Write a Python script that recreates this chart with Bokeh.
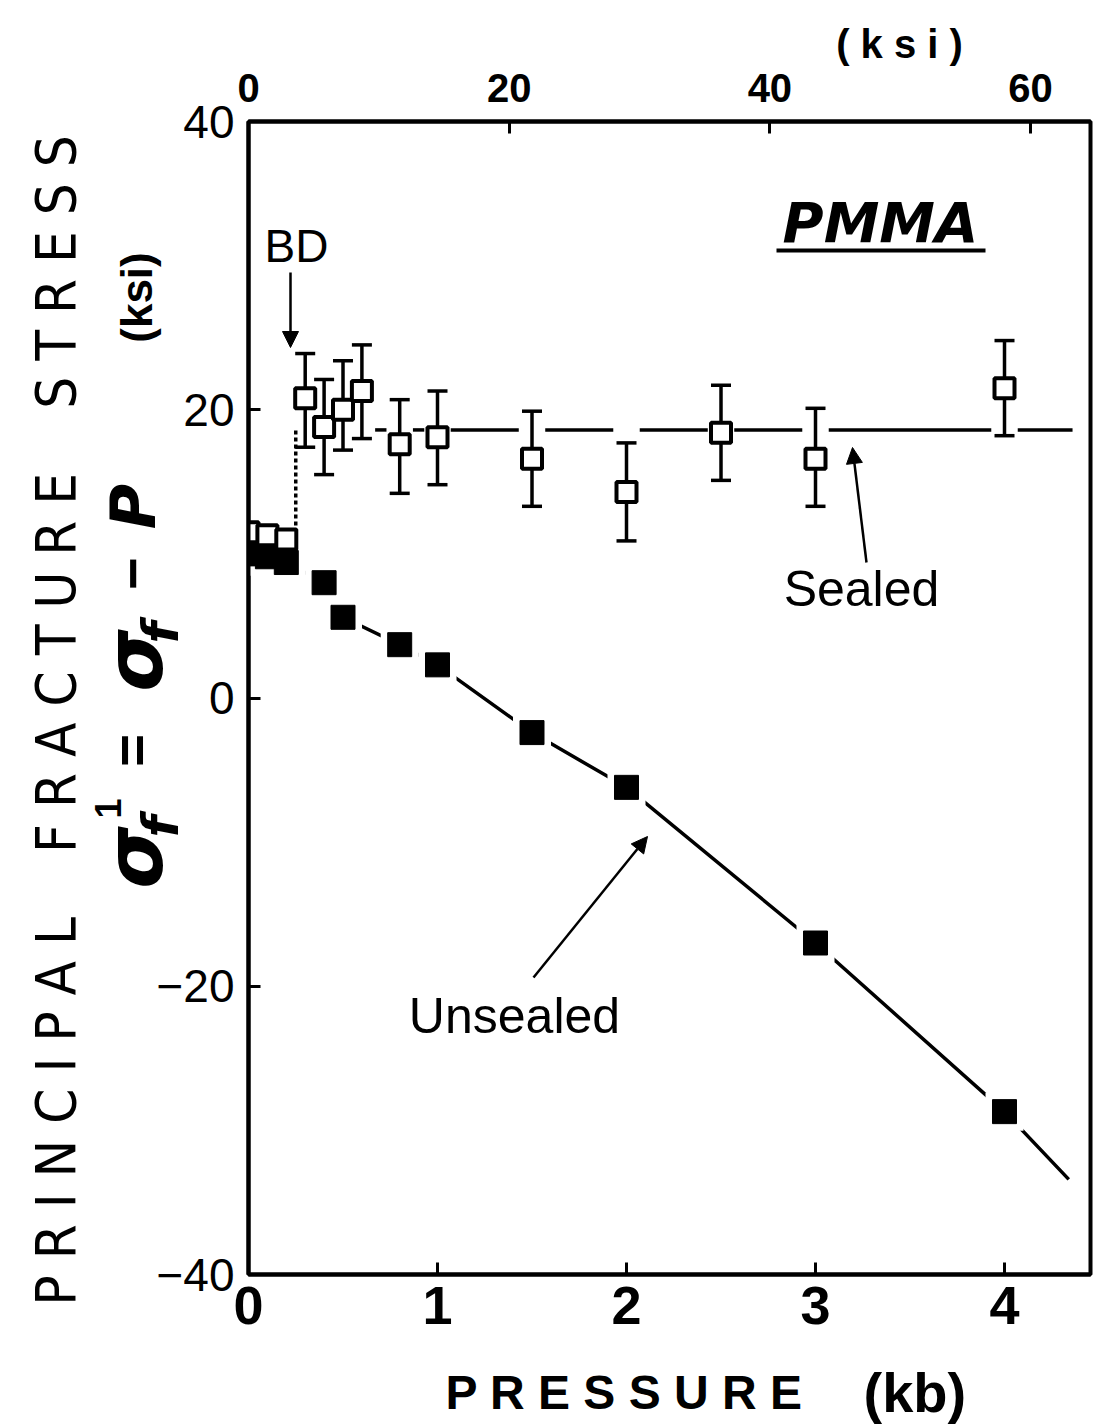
import math
from bokeh.plotting import figure
from bokeh.models import (Range1d, LinearAxis, FixedTicker, Label, Arrow, GridBox,
                          NormalHead, Whisker, TeeHead, ColumnDataSource)
from bokeh.core.properties import value
from bokeh.embed import file_html
from bokeh.resources import INLINE

# ---- data: pressure (kb) vs sigma_f' (ksi) ----
sealed_low_p = [0.0, 0.1, 0.2]
sealed_low_s = [11.5, 11.3, 11.0]

sealed_p = [0.3, 0.4, 0.5, 0.6, 0.8, 1.0, 1.5, 2.0, 2.5, 3.0, 4.0]
sealed_s = [20.8, 18.8, 20.0, 21.3, 17.6, 18.1, 16.6, 14.3, 18.4, 16.6, 21.5]
sealed_lo = [17.4, 15.5, 17.2, 18.0, 14.2, 14.8, 13.3, 10.9, 15.1, 13.3, 18.2]
sealed_hi = [23.9, 22.1, 23.4, 24.5, 20.7, 21.3, 19.9, 17.7, 21.7, 20.1, 24.8]

sealed_level = 18.6      # mean sealed strength above BD
bd_pressure = 0.25       # brittle-ductile transition
sealed_line_end = 4.36

unsealed_p = [0.0, 0.1, 0.2, 0.4, 0.5, 0.8, 1.0, 1.5, 2.0, 3.0, 4.0]
unsealed_s = [10.0, 9.8, 9.4, 8.0, 5.6, 3.7, 2.3, -2.4, -6.2, -17.0, -28.7]

unsealed_curve_p = [0.2, 0.4, 0.5, 0.8, 1.0, 1.5, 2.0, 3.0, 4.0, 4.34]
unsealed_curve_s = [9.4, 8.0, 5.6, 3.7, 2.3, -2.4, -6.2, -17.0, -28.7, -33.4]

kb_ticks = [0, 1, 2, 3, 4]
ksi_ticks = [0, 20, 40, 60]
stress_ticks = [-40, -20, 0, 20, 40]
KSI_PER_KB = 14.5

# ---- layout ----
W, H = 1093, 1427
LEFT, RIGHT, TOP, BOTTOM = 248, 3, 121, 153
X_MAX = 4.455
Y_MIN, Y_MAX = -40, 40
FW = W - LEFT - RIGHT
FH = H - TOP - BOTTOM


def dx(px):
    return (px - LEFT) / FW * X_MAX


def dy(py):
    return Y_MAX - (py - TOP) / FH * (Y_MAX - Y_MIN)


p = figure(width=W, height=H, x_range=Range1d(0, X_MAX), y_range=Range1d(Y_MIN, Y_MAX),
           output_backend="svg", toolbar_location=None,
           min_border_left=LEFT, min_border_right=RIGHT,
           min_border_top=TOP, min_border_bottom=BOTTOM)
p.background_fill_color = "white"
p.border_fill_color = "white"
p.outline_line_color = "black"
p.outline_line_width = 4
p.grid.visible = False

TICK_FONT = "'Liberation Sans', Arial, sans-serif"

xa = p.xaxis[0]
xa.ticker = FixedTicker(ticks=kb_ticks)
ya = p.yaxis[0]
ya.ticker = FixedTicker(ticks=stress_ticks)

top = LinearAxis(x_range_name="ksi", ticker=FixedTicker(ticks=ksi_ticks))
p.extra_x_ranges = {"ksi": Range1d(0, X_MAX * KSI_PER_KB)}
p.add_layout(top, "above")

for ax in (xa, ya, top):
    ax.axis_line_width = 4
    ax.axis_line_color = "black"
    ax.major_tick_in = 12
    ax.major_tick_out = 0
    ax.major_tick_line_width = 3
    ax.minor_tick_line_color = None
    ax.major_label_text_font = TICK_FONT
    ax.major_label_text_color = "black"

xa.major_label_text_font_size = "54px"
xa.major_label_text_font_style = "bold"
xa.major_label_standoff = 12
ya.major_label_text_font_size = "46px"
ya.major_label_text_font_style = "normal"
ya.major_label_standoff = 14
top.major_label_text_font_size = "40px"
top.major_label_text_font_style = "bold"
top.major_label_standoff = 20

# ---- sealed: horizontal trend line broken at each data point ----
GAP = 0.07
seg_x0, seg_x1 = [], []
start = bd_pressure
for xp in sorted(sealed_p):
    end = xp - GAP
    if end > start + 0.01:
        seg_x0.append(start)
        seg_x1.append(end)
    start = max(start, xp + GAP)
if sealed_line_end > start:
    seg_x0.append(start)
    seg_x1.append(sealed_line_end)
p.segment(x0=seg_x0, y0=[sealed_level] * len(seg_x0), x1=seg_x1,
          y1=[sealed_level] * len(seg_x1), line_color="black", line_width=3.5)

# dotted jump at BD
p.line([bd_pressure, bd_pressure], [sealed_low_s[-1], sealed_level],
       line_color="black", line_width=3.5, line_dash="4 3")

# error bars
err_src = ColumnDataSource(dict(x=sealed_p, lo=sealed_lo, hi=sealed_hi))
p.add_layout(Whisker(source=err_src, base="x", lower="lo", upper="hi",
                     line_color="black", line_width=3.5,
                     upper_head=TeeHead(size=20, line_width=3.5, line_color="black"),
                     lower_head=TeeHead(size=20, line_width=3.5, line_color="black")))

# ---- unsealed: curve with gaps around the markers ----
p.line(unsealed_curve_p, unsealed_curve_s, line_color="black", line_width=3.5)
p.scatter(unsealed_p, unsealed_s, marker="square", size=38,
          fill_color="white", line_color=None)
p.scatter(unsealed_p, unsealed_s, marker="square", size=24,
          fill_color="black", line_color="black")

# sealed markers (open squares)
p.scatter(sealed_low_p, sealed_low_s, marker="square", size=20,
          fill_color="white", line_color="black", line_width=4)
p.scatter(sealed_p, sealed_s, marker="square", size=20,
          fill_color="white", line_color="black", line_width=4)

# ---- annotations inside the frame ----
LBL_FONT = "'Liberation Sans', Arial, sans-serif"


def label(text, px, py, size, style="normal", font=LBL_FONT):
    p.add_layout(Label(x=dx(px), y=dy(py), text=text, text_font=font,
                       text_font_size=f"{size}px", text_font_style=style,
                       text_color="black", text_align="center",
                       text_baseline="middle"))


def arrow(px0, py0, px1, py1):
    p.add_layout(Arrow(x_start=dx(px0), y_start=dy(py0), x_end=dx(px1), y_end=dy(py1),
                       line_color="black", line_width=2.5,
                       end=NormalHead(size=16, fill_color="black", line_color="black")))


label("BD", 296, 245, 46)
arrow(290, 272, 290, 347)

label("Sealed", 861, 588, 50)
arrow(866, 562, 852, 447)

label("Unsealed", 514, 1015, 50)
arrow(533, 977, 647, 836)

label("PMMA", 880, 222, 56, style="bold italic", font="'DejaVu Sans', sans-serif")
p.add_layout(Arrow(x_start=dx(776), y_start=dy(250), x_end=dx(985), y_end=dy(250),
                   line_color="black", line_width=4, start=None, end=None))

# ---- axis titles: transparent page-sized layer laid over the chart ----
t = figure(width=W, height=H, x_range=Range1d(0, W), y_range=Range1d(0, H),
           output_backend="svg", toolbar_location=None,
           x_axis_type=None, y_axis_type=None, min_border=0)
if "frame_align" in t.properties():
    t.frame_align = False
t.grid.visible = False
t.outline_line_color = None
t.background_fill_alpha = 0
t.border_fill_alpha = 0


def tlabel(text, px, py, size, style="normal", font=LBL_FONT, angle=0.0, align="center"):
    t.text(x=[px], y=[H - py], text=[text], text_font=value(font),
           text_font_size=value(f"{size}px"), text_font_style=style,
           text_color="black", text_align=align, text_baseline="middle", angle=angle)


def spaced(words):
    # letter-spaced caps, with a wider (non-collapsing) gap between words
    return " \u00a0\u00a0\u00a0".join(" ".join(w) for w in words)


tlabel("( k s i )", 899, 43, 40, style="bold")
tlabel(spaced(["PRESSURE"]), 445, 1392, 48, style="bold", align="left")
tlabel("(kb)", 863, 1392, 56, style="bold", align="left")

UP = math.pi / 2
tlabel(spaced(["PRINCIPAL", "FRACTURE", "STRESS"]), 55, 720, 56,
       font="'DejaVu Sans Condensed', 'Liberation Sans Narrow', sans-serif", angle=UP)

SIG_FONT = "'DejaVu Sans', sans-serif"
tlabel("σ", 134, 857, 80, style="bold italic", font=SIG_FONT, angle=UP)
tlabel("f", 160, 826, 50, style="bold italic", font=SIG_FONT, angle=UP)
tlabel("1", 107, 808, 36, style="bold", angle=UP)
tlabel("=", 131, 750, 56, style="bold", angle=UP)
tlabel("σ", 134, 660, 80, style="bold italic", font=SIG_FONT, angle=UP)
tlabel("f", 160, 632, 50, style="bold italic", font=SIG_FONT, angle=UP)
tlabel("−", 132, 573, 56, style="bold", angle=UP)
tlabel("P", 133, 506, 62, style="bold italic", font=SIG_FONT, angle=UP)
tlabel("(ksi)", 136, 297, 44, style="bold", angle=UP)

page = GridBox(children=[(p, 0, 0), (t, 0, 0)])
open("out.html", "w").write(file_html(page, INLINE))
